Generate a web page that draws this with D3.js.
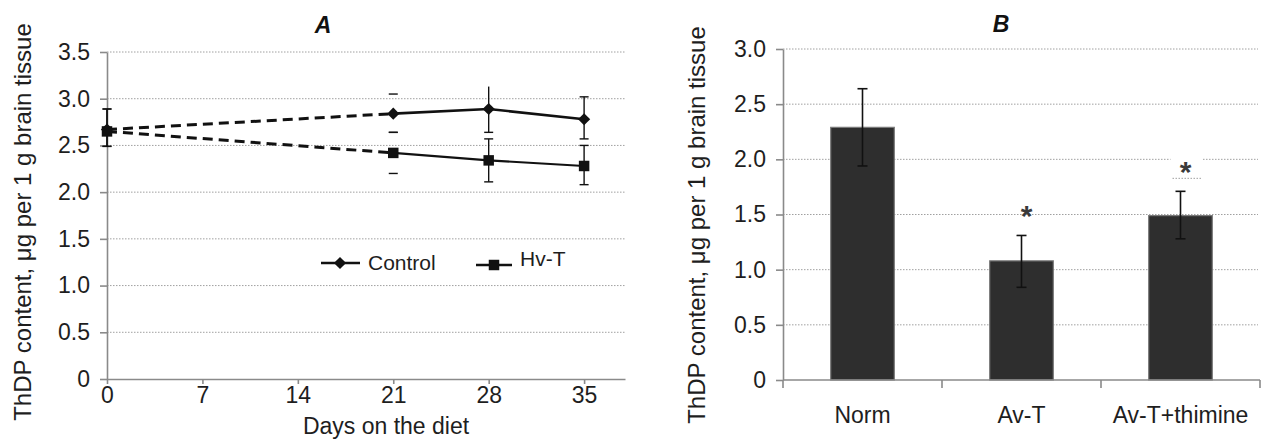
<!DOCTYPE html>
<html><head><meta charset="utf-8">
<script src="https://cdn.jsdelivr.net/npm/d3@7"></script>
<style>body{margin:0;background:#fff}svg{display:block;font-family:"Liberation Sans",Arial,sans-serif}</style>
</head><body>
<svg id="c" width="1264" height="439"></svg>
<script>
// ---- Panel A data ----
const days = [0, 21, 28, 35];
const controlMean = [2.67, 2.84, 2.89, 2.78];
const controlHi   = [2.89, 3.05, 3.13, 3.02];
const controlLo   = [2.49, 2.64, 2.64, 2.57];
const controlCapHi = [true, true, false, true];
const hvtMean = [2.65, 2.42, 2.34, 2.28];
const hvtHi   = [2.89, 2.64, 2.57, 2.50];
const hvtLo   = [2.49, 2.20, 2.11, 2.08];
const hvtCapHi = [true, true, true, true];
const showStem = [true, false, true, true];
const xTicksA = [0, 7, 14, 21, 28, 35];
const yTicksA = [0, 0.5, 1.0, 1.5, 2.0, 2.5, 3.0, 3.5];
// ---- Panel B data ----
const groups = ["Norm", "Av-T", "Av-T+thimine"];
const groupMean = [2.29, 1.08, 1.49];
const groupHi = [2.64, 1.31, 1.71];
const groupLo = [1.94, 0.84, 1.28];
const signif = [false, true, true];
const yTicksB = [0, 0.5, 1.0, 1.5, 2.0, 2.5, 3.0];
const yTitle = "ThDP content, \u03bcg per 1 g brain tissue";

const svg = d3.select("#c");
const fmt = d => d === 0 ? "0" : d3.format(".1f")(d);
const axisCol = "#8a8a8a", gridCol = "#a0a0a0", ink = "#111";
const FS = 23;

function styleAxis(g){
  g.select(".domain").attr("stroke", axisCol).attr("stroke-width", 1.6);
  g.selectAll(".tick line").attr("stroke", axisCol).attr("stroke-width", 1.6);
  g.selectAll(".tick text").attr("fill", "#1e1e1e").attr("font-size", FS).attr("font-family", "Liberation Sans, Arial, sans-serif");
}

// ================= Panel A =================
const xA = d3.scaleLinear().domain([0, 38]).range([107, 625]);
const yA = d3.scaleLinear().domain([0, 3.5]).range([379, 52]);
const gA = svg.append("g");

gA.selectAll("line.grid").data(yTicksA.filter(d => d > 0)).join("line")
  .attr("x1", xA(0)).attr("x2", xA(38)).attr("y1", d => yA(d)).attr("y2", d => yA(d))
  .attr("stroke", gridCol).attr("stroke-width", 1).attr("stroke-dasharray", "1.5,1.5");

const axYA = gA.append("g").attr("transform", `translate(${xA(0)},0)`)
  .call(d3.axisLeft(yA).tickValues(yTicksA).tickFormat(fmt).tickSize(7).tickPadding(10).tickSizeOuter(0));
styleAxis(axYA);
const axXA = gA.append("g").attr("transform", `translate(0,${yA(0)})`)
  .call(d3.axisBottom(xA).tickValues(xTicksA).tickFormat(d3.format("d")).tickSize(5).tickPadding(3).tickSizeOuter(0));
styleAxis(axXA);

gA.append("text").attr("x", 323).attr("y", 33).attr("text-anchor", "middle")
  .attr("font-size", FS).attr("font-weight", "bold").attr("font-style", "italic").attr("fill", ink).text("A");
gA.append("text").attr("x", 386).attr("y", 434).attr("text-anchor", "middle")
  .attr("font-size", FS).attr("fill", "#1e1e1e").text("Days on the diet");
gA.append("text").attr("transform", "translate(31,222) rotate(-90)").attr("text-anchor", "middle")
  .attr("font-size", 24).attr("fill", "#1e1e1e").text(yTitle);

function series(mean, hi, lo, capHi){ return days.map((d,i)=>({d, m:mean[i], hi:hi[i], lo:lo[i], stem:showStem[i], capHi:capHi[i]})); }
const sC = series(controlMean, controlHi, controlLo, controlCapHi);
const sH = series(hvtMean, hvtHi, hvtLo, hvtCapHi);
const line = d3.line().x(p => xA(p.d)).y(p => yA(p.m));

[sC, sH].forEach(s => {
  const eb = gA.append("g").attr("stroke", ink).attr("stroke-width", 1.4);
  s.forEach(p => {
    if (p.stem) eb.append("line").attr("x1", xA(p.d)).attr("x2", xA(p.d)).attr("y1", yA(p.hi)).attr("y2", yA(p.lo));
    const caps = p.capHi ? [p.hi, p.lo] : [p.lo];
    caps.forEach(v => eb.append("line").attr("x1", xA(p.d)-4.5).attr("x2", xA(p.d)+4.5).attr("y1", yA(v)).attr("y2", yA(v)));
  });
  gA.append("path").attr("d", line(s.slice(0,2))).attr("fill", "none").attr("stroke", ink)
    .attr("stroke-width", 3).attr("stroke-dasharray", "10,6");
  gA.append("path").attr("d", line(s.slice(1))).attr("fill", "none").attr("stroke", ink)
    .attr("stroke-width", s === sC ? 2.6 : 2.2);
});

const diamond = d3.symbol().type(d3.symbolSquare).size(74);
const square = d3.symbol().type(d3.symbolSquare).size(110);
gA.selectAll("path.mh").data(sH).join("path").attr("d", square)
  .attr("transform", p => `translate(${xA(p.d)},${yA(p.m)})`).attr("fill", ink);
gA.selectAll("path.mc").data(sC).join("path").attr("d", diamond)
  .attr("transform", p => `translate(${xA(p.d)},${yA(p.m)}) rotate(45)`).attr("fill", ink);

// legend
const leg = gA.append("g");
leg.append("line").attr("x1", 321).attr("x2", 360).attr("y1", 263).attr("y2", 263).attr("stroke", ink).attr("stroke-width", 2.6);
leg.append("path").attr("d", diamond).attr("transform", "translate(340,263) rotate(45)").attr("fill", ink);
leg.append("text").attr("x", 368).attr("y", 270).attr("font-size", 21).attr("fill", "#1e1e1e").text("Control");
leg.append("line").attr("x1", 476).attr("x2", 512).attr("y1", 265).attr("y2", 265).attr("stroke", ink).attr("stroke-width", 2.6);
leg.append("path").attr("d", square).attr("transform", "translate(494,265)").attr("fill", ink);
leg.append("text").attr("x", 520).attr("y", 266).attr("font-size", 21).attr("fill", "#1e1e1e").text("Hv-T");

// ================= Panel B =================
const xB = d3.scaleBand().domain(groups).range([783, 1260]).padding(0);
const yB = d3.scaleLinear().domain([0, 3]).range([380, 49]);
const gB = svg.append("g");
gB.selectAll("line.grid").data(yTicksB.filter(d => d > 0)).join("line")
  .attr("x1", 783).attr("x2", 1258).attr("y1", d => yB(d)).attr("y2", d => yB(d))
  .attr("stroke", gridCol).attr("stroke-width", 1).attr("stroke-dasharray", "1.5,1.5");

const bw = xB.bandwidth() * 0.4;
const bd = groups.map((g,i)=>({g, m:groupMean[i], hi:groupHi[i], lo:groupLo[i], s:signif[i], last:i===groups.length-1}));
const cx = d => xB(d.g) + xB.bandwidth()/2;

gB.selectAll("rect.bar").data(bd).join("rect")
  .attr("x", d => cx(d) - bw/2).attr("width", bw)
  .attr("y", d => yB(d.m)).attr("height", d => yB(0) - yB(d.m))
  .attr("fill", "#2e2e2e").attr("stroke", "#7a7a7a").attr("stroke-width", 1.2);

const ebB = gB.append("g").attr("stroke", ink).attr("stroke-width", 1.6);
bd.forEach(d => {
  ebB.append("line").attr("x1", cx(d)).attr("x2", cx(d)).attr("y1", yB(d.hi)).attr("y2", yB(d.lo));
  [d.hi, d.lo].forEach(v => ebB.append("line").attr("x1", cx(d)-5).attr("x2", cx(d)+5).attr("y1", yB(v)).attr("y2", yB(v)));
});

const axYB = gB.append("g").attr("transform", "translate(783,0)")
  .call(d3.axisLeft(yB).tickValues(yTicksB).tickFormat(fmt).tickSize(7).tickPadding(10).tickSizeOuter(0));
styleAxis(axYB);
const axXB = gB.append("g").attr("transform", `translate(0,${yB(0)})`)
  .call(d3.axisBottom(xB).tickSize(0).tickPadding(27).tickSizeOuter(0));
styleAxis(axXB);
axXB.select(".domain").attr("d", "M783,0H1260");
gB.selectAll("line.bt").data([0,1,2,3]).join("line")
  .attr("x1", i => 783 + i*xB.step()).attr("x2", i => 783 + i*xB.step())
  .attr("y1", yB(0)).attr("y2", yB(0)+8).attr("stroke", axisCol).attr("stroke-width", 1.6);

// significance marks; the last one sits on a white label box with a dotted underline
bd.filter(d => d.s && d.last).forEach(d => {
  const x = cx(d) + 6, y = yB(d.hi) - 20;
  gB.append("rect").attr("x", x-16).attr("y", y-17).attr("width", 32).attr("height", 22).attr("fill", "#fff");
  gB.append("line").attr("x1", x-14).attr("x2", x+16).attr("y1", y+7).attr("y2", y+7)
    .attr("stroke", gridCol).attr("stroke-width", 1).attr("stroke-dasharray", "1.5,1.5");
});
gB.selectAll("text.star").data(bd.filter(d => d.s)).join("text")
  .attr("x", d => cx(d) + 5).attr("y", d => yB(d.hi) - 9).attr("text-anchor", "middle")
  .attr("font-size", 30).attr("font-weight", "bold").attr("fill", "#3a3a3a").text("*");

gB.append("text").attr("x", 1001).attr("y", 32).attr("text-anchor", "middle")
  .attr("font-size", FS).attr("font-weight", "bold").attr("font-style", "italic").attr("fill", ink).text("B");
gB.append("text").attr("transform", "translate(705,225) rotate(-90)").attr("text-anchor", "middle")
  .attr("font-size", 24).attr("fill", "#1e1e1e").text(yTitle);
</script>
</body></html>
